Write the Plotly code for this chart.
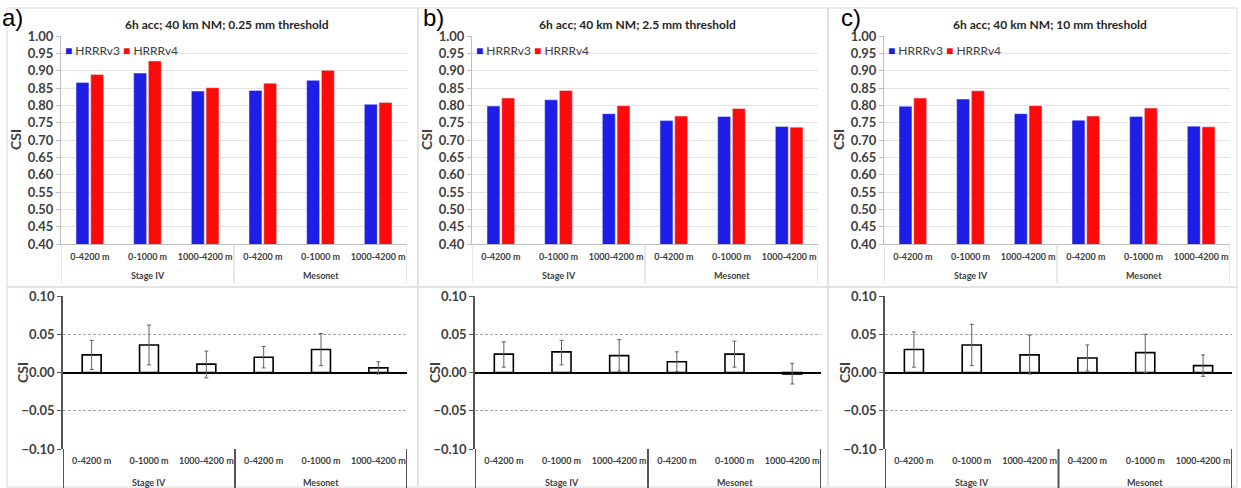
import plotly.graph_objects as go

W, H = 1241, 488

groups = ["Stage IV"] * 3 + ["Mesonet"] * 3
layers = ["0-4200 m", "0-1000 m", "1000-4200 m"] * 2
group_names = ["Stage IV", "Mesonet"]

titles = ["6h acc; 40 km NM; 0.25 mm threshold",
          "6h acc; 40 km NM; 2.5 mm threshold",
          "6h acc; 40 km NM; 10 mm threshold"]
letters = ["a)", "b)", "c)"]

# top: CSI
v3_a = [0.866, 0.893, 0.841, 0.843, 0.872, 0.803]
v4_a = [0.889, 0.928, 0.851, 0.864, 0.901, 0.808]
v3_b = [0.798, 0.816, 0.776, 0.756, 0.768, 0.739]
v4_b = [0.821, 0.843, 0.799, 0.769, 0.791, 0.737]
v3_c = [0.797, 0.818, 0.776, 0.757, 0.768, 0.740]
v4_c = [0.821, 0.842, 0.799, 0.769, 0.792, 0.738]

# bottom: CSI difference with confidence interval ends
diff_a = [0.023, 0.036, 0.011, 0.020, 0.030, 0.006]
low_a = [0.004, 0.010, -0.007, 0.006, 0.009, -0.002]
high_a = [0.042, 0.062, 0.028, 0.034, 0.051, 0.014]
diff_b = [0.024, 0.027, 0.022, 0.014, 0.024, -0.002]
low_b = [0.007, 0.010, 0.002, 0.001, 0.007, -0.015]
high_b = [0.040, 0.042, 0.043, 0.027, 0.041, 0.012]
diff_c = [0.030, 0.036, 0.023, 0.019, 0.026, 0.009]
low_c = [0.007, 0.009, -0.002, 0.002, 0.000, -0.005]
high_c = [0.053, 0.063, 0.049, 0.036, 0.050, 0.023]

BLUE = "#1e1ee6"
RED = "#ff0a0a"
TXT = "#404040"
FONT = "Lato"


def fx(px):
    return px / W


def fy(py):
    return 1 - py / H


top_x = [(61, 407), (472, 818), (884, 1230)]
top_y = (36, 244)
bot_x = [(63, 407), (475, 821), (885, 1232)]
bot_y = (296, 449)
frames_x = [(7, 418), (418, 828), (828, 1237)]
letter_x = [0, 421, 839]

idx = list(range(len(layers)))
n_per_group = [groups.count(g) for g in group_names]
bounds = [-0.5]
for n in n_per_group:
    bounds.append(bounds[-1] + n)
group_centers = [(bounds[k] + bounds[k + 1]) / 2 for k in range(len(group_names))]

fig = go.Figure()
v3s = [v3_a, v3_b, v3_c]
v4s = [v4_a, v4_b, v4_c]
diffs = [diff_a, diff_b, diff_c]
lows = [low_a, low_b, low_c]
highs = [high_a, high_b, high_c]

annotations = []
shapes = []
top_h = top_y[1] - top_y[0]
bot_h = bot_y[1] - bot_y[0]
for i in range(3):
    sfx_t = "" if i == 0 else str(2 * i + 1)
    sfx_b = str(2 * i + 2)
    xt, yt = "x" + sfx_t, "y" + sfx_t
    xb, yb = "x" + sfx_b, "y" + sfx_b
    fig.add_trace(go.Bar(x=idx, y=v3s[i], name="HRRRv3", customdata=groups,
                         marker_color=BLUE, xaxis=xt, yaxis=yt, showlegend=False))
    fig.add_trace(go.Bar(x=idx, y=v4s[i], name="HRRRv4", customdata=groups,
                         marker_color=RED, xaxis=xt, yaxis=yt, showlegend=False))
    plus = [h - d for h, d in zip(highs[i], diffs[i])]
    minus = [d - l for d, l in zip(diffs[i], lows[i])]
    fig.add_trace(go.Bar(x=idx, y=diffs[i], name="HRRRv4 - HRRRv3", customdata=groups,
                         marker=dict(color="white", line=dict(color="black", width=1.6)),
                         width=0.33, xaxis=xb, yaxis=yb, showlegend=False,
                         error_y=dict(type="data", symmetric=False, array=plus,
                                      arrayminus=minus, color="#606060",
                                      thickness=1, width=2)))

    xdom_t = [fx(top_x[i][0]), fx(top_x[i][1])]
    xdom_b = [fx(bot_x[i][0]), fx(bot_x[i][1])]
    fig.layout["xaxis" + sfx_t] = dict(
        domain=xdom_t, anchor=yt, automargin=False, range=[-0.5, 5.5],
        tickmode="array", tickvals=idx, ticktext=layers, tickangle=0,
        ticklabelstandoff=4,
        showline=True, linecolor="#bfbfbf", linewidth=1,
        ticks="", tickfont=dict(family=FONT, size=9, color=TXT, weight="bold"),
        showgrid=False, zeroline=False, fixedrange=True)
    fig.layout["yaxis" + sfx_t] = dict(
        domain=[fy(top_y[1]), fy(top_y[0])], anchor=xt, automargin=False,
        range=[0.40, 1.00], dtick=0.05, tick0=0, tickformat=".2f",
        showline=True, linecolor="#bfbfbf", ticks="outside", ticklen=4,
        tickcolor="#bfbfbf", showgrid=True, gridcolor="#e3e3e3", gridwidth=1,
        zeroline=False,
        tickfont=dict(family=FONT, size=13, color=TXT, weight="bold"))
    fig.layout["xaxis" + sfx_b] = dict(
        domain=xdom_b, anchor=yb, automargin=False, range=[-0.5, 5.5],
        tickmode="array", tickvals=idx, ticktext=layers, tickangle=0,
        ticklabelstandoff=5, showline=False,
        ticks="", tickfont=dict(family=FONT, size=9, color=TXT, weight="bold"),
        showgrid=False, zeroline=False, fixedrange=True)
    fig.layout["yaxis" + sfx_b] = dict(
        domain=[fy(bot_y[1]), fy(bot_y[0])], anchor=xb, automargin=False,
        range=[-0.10, 0.10], dtick=0.05, tick0=0, tickformat=".2f",
        showline=True, linecolor="#555555", linewidth=1.5,
        ticks="outside", ticklen=4, tickcolor="#555555",
        showgrid=True, gridcolor="#a6a6a6", gridwidth=1, griddash="3px,2px",
        zeroline=True, zerolinecolor="black", zerolinewidth=1.5,
        tickfont=dict(family=FONT, size=13, color=TXT, weight="bold"))

    # group labels and dividers
    for g, c in zip(group_names, group_centers):
        annotations.append(dict(text=g, x=c, y=-32 / top_h, xref=xt,
                                yref=yt + " domain", xanchor="center", yanchor="middle",
                                showarrow=False,
                                font=dict(family=FONT, size=9, color=TXT, weight="bold")))
        annotations.append(dict(text=g, x=c, y=-33 / bot_h, xref=xb,
                                yref=yb + " domain", xanchor="center", yanchor="middle",
                                showarrow=False,
                                font=dict(family=FONT, size=9, color=TXT, weight="bold")))
    for b in bounds:
        shapes.append(dict(type="line", xref=xt, yref=yt + " domain", x0=b, x1=b,
                           y0=0, y1=-39 / top_h, line=dict(color="#d0d0d0", width=1)))
        shapes.append(dict(type="line", xref=xb, yref=yb + " domain", x0=b, x1=b,
                           y0=0, y1=-40 / bot_h, line=dict(color="#555555", width=2)))

    xc = (top_x[i][0] + top_x[i][1]) / 2
    annotations.append(dict(text=titles[i], x=fx(xc - 7), y=fy(24), xref="paper",
                            yref="paper", xanchor="center", yanchor="middle",
                            showarrow=False,
                            font=dict(family=FONT, size=12, color="#262626", weight="bold")))
    annotations.append(dict(text=letters[i], x=fx(letter_x[i]), y=fy(17),
                            xref="paper", yref="paper", xanchor="left", yanchor="middle",
                            showarrow=False,
                            font=dict(family="Liberation Sans", size=24, color="black")))
    annotations.append(dict(
        text=f"<span style='color:{BLUE}'>■</span> HRRRv3 <span style='color:{RED}'>■</span> HRRRv4",
        x=fx(top_x[i][0] + 2), y=fy(50), xref="paper", yref="paper", xanchor="left",
        yanchor="middle", showarrow=False, font=dict(family=FONT, size=12, color=TXT)))
    annotations.append(dict(text="CSI", x=fx(top_x[i][0] - 46), y=fy(140), xref="paper",
                            yref="paper", xanchor="center", yanchor="middle",
                            textangle=-90, showarrow=False,
                            font=dict(family=FONT, size=14, color=TXT, weight="bold")))
    annotations.append(dict(text="CSI", x=fx(bot_x[i][0] - 41), y=fy(373), xref="paper",
                            yref="paper", xanchor="center", yanchor="middle",
                            textangle=-90, showarrow=False,
                            font=dict(family=FONT, size=14, color=TXT, weight="bold")))
    for (y0, y1) in [(8, 287), (287, 487)]:
        shapes.append(dict(type="rect", xref="paper", yref="paper",
                           x0=fx(frames_x[i][0]), x1=fx(frames_x[i][1]),
                           y0=fy(y1), y1=fy(y0), line=dict(color="#d9d9d9", width=1),
                           layer="below"))

fig.update_layout(
    width=W, height=H, margin=dict(l=0, r=0, t=0, b=0),
    paper_bgcolor="white", plot_bgcolor="white",
    barmode="group", bargap=0.49, bargroupgap=0.12,
    annotations=annotations, shapes=shapes,
    font=dict(family=FONT, color=TXT),
)

fig.write_html("out.html")
